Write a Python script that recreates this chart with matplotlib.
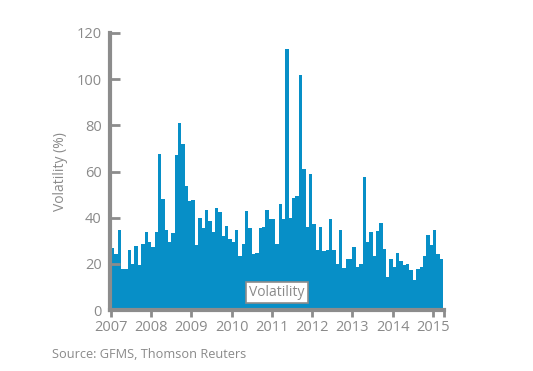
import numpy as np
import matplotlib
matplotlib.use("Agg")
import matplotlib.pyplot as plt

# monthly volatility (%), Jan 2007 - Mar 2015
volatility = [
    26.7, 24.3, 34.5, 17.7, 17.7, 25.8, 20.0, 27.8, 19.7, 28.7, 33.6, 29.3,
    27.5, 33.6, 67.5, 48.3, 34.5, 29.3, 33.3, 67.1, 80.9, 71.9, 53.6, 47.2,
    47.8, 28.0, 39.7, 35.4, 43.2, 38.4, 33.6, 44.3, 42.6, 31.9, 36.5, 30.7,
    29.6, 34.5, 23.2, 28.7, 42.8, 35.7, 24.3, 24.6, 35.7, 36.1, 43.2, 39.4,
    39.4, 28.7, 45.8, 39.4, 113.0, 40.0, 48.7, 49.3, 101.9, 61.0, 35.9, 58.8,
    37.1, 25.8, 35.9, 25.5, 26.1, 39.3, 25.8, 20.0, 34.5, 18.0, 22.2, 22.2,
    27.2, 18.8, 20.0, 57.7, 29.4, 33.6, 23.2, 34.2, 37.7, 26.5, 14.5, 22.2,
    18.8, 24.9, 21.2, 19.6, 20.0, 17.4, 13.0, 17.7, 18.6, 23.5, 32.3, 28.0,
    34.8, 24.3, 22.2,
]
years = ["2007", "2008", "2009", "2010", "2011", "2012", "2013", "2014", "2015"]

BAR = "#078fc7"
GREY = "#8c8c8c"
TEXT = "#8a8a8a"

plt.rcParams["font.family"] = ["Open Sans", "DejaVu Sans"]

fig = plt.figure(figsize=(5.33, 3.71), dpi=100)
ax = fig.add_axes([110 / 533, 1 - 310 / 371, 334 / 533, 277 / 371])

x = np.arange(len(volatility))
ax.bar(x, volatility, width=1.0, align="edge", color=BAR, linewidth=0, zorder=1)

xmax = len(volatility) + 0.3
ax.set_xlim(-0.3, xmax)
ax.set_ylim(0, 120)

ax.set_yticks(np.arange(0, 121, 20))
ax.tick_params(axis="y", direction="in", length=7, width=2, color=GREY,
               labelcolor=TEXT, labelsize=10.5, pad=6)
ax.set_xticks(np.arange(0, 12 * len(years), 12))
ax.set_xticklabels(years)
ax.set_xticks([xmax], minor=True)
ax.tick_params(axis="x", which="both", direction="out", length=5, width=2,
               color=GREY, labelcolor=TEXT, labelsize=10.5, pad=2)
for t in ax.get_yticklines() + ax.get_xticklines():
    t.set_zorder(5)

for side in ["top", "right"]:
    ax.spines[side].set_visible(False)
for side in ["left", "bottom"]:
    ax.spines[side].set_color(GREY)
    ax.spines[side].set_linewidth(3)
    ax.spines[side].set_zorder(6)

ax.set_ylabel("Volatility (%)", color=TEXT, fontsize=10, labelpad=6)

ax.text(0.5, 0.063, "Volatility", transform=ax.transAxes, ha="center", va="center",
        color=TEXT, fontsize=10,
        bbox=dict(boxstyle="square,pad=0.22", facecolor="white", edgecolor=GREY, linewidth=1.2),
        zorder=7)

fig.text(52 / 533, 1 - 355 / 371, "Source: GFMS, Thomson Reuters", color=TEXT,
         fontsize=9.2, ha="left", va="center")

fig.savefig("out.png", dpi=100)
